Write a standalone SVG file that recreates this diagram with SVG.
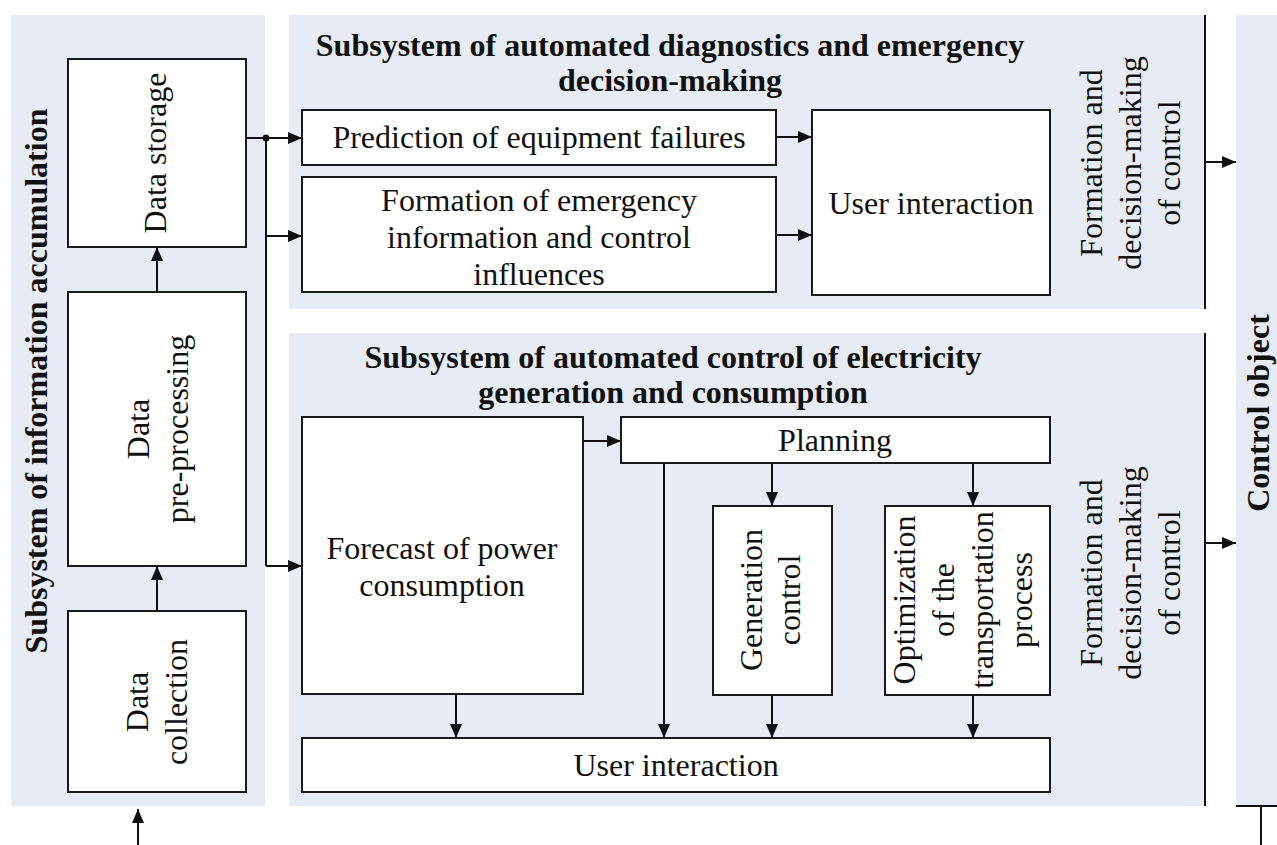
<svg xmlns="http://www.w3.org/2000/svg" width="1277" height="845" viewBox="0 0 1277 845">
<defs>
<marker id="arr" viewBox="0 0 14 12" refX="14" refY="6" markerWidth="14" markerHeight="12" markerUnits="userSpaceOnUse" orient="auto">
<path d="M0,0 L14,6 L0,12 Z" fill="#111"/>
</marker>
<style>
.panel{fill:#E7EBF3;stroke:none}
.box{fill:#fff;stroke:#1a1a1a;stroke-width:2}
.t{font-family:"Liberation Serif","Times New Roman",serif;font-size:32px;fill:#111;text-anchor:middle}
.b{font-family:"Liberation Serif","Times New Roman",serif;font-size:32px;font-weight:bold;fill:#111;text-anchor:middle}
.c{fill:none;stroke:#111;stroke-width:2}
.a{fill:none;stroke:#111;stroke-width:2;marker-end:url(#arr)}
</style>
</defs>
<rect width="1277" height="845" fill="#fff"/>

<g id="panel-accumulation">
<rect class="panel" x="11" y="15" width="254" height="791"/>
<text class="b" transform="translate(47,381) rotate(-90)">Subsystem of information accumulation</text>
</g>
<g id="panel-diagnostics">
<rect class="panel" x="289" y="15" width="916" height="294"/>
<text class="b" x="670" y="56">Subsystem of automated diagnostics and emergency</text>
<text class="b" x="670" y="91">decision-making</text>
<text class="t" transform="translate(1102,163) rotate(-90)"><tspan x="0" y="0">Formation and</tspan><tspan x="0" y="39">decision-making</tspan><tspan x="0" y="78">of control</tspan></text>
</g>
<g id="panel-control">
<rect class="panel" x="289" y="333" width="916" height="473"/>
<text class="b" x="673" y="368">Subsystem of automated control of electricity</text>
<text class="b" x="673" y="403">generation and consumption</text>
<text class="t" transform="translate(1102,573) rotate(-90)"><tspan x="0" y="0">Formation and</tspan><tspan x="0" y="39">decision-making</tspan><tspan x="0" y="78">of control</tspan></text>
</g>
<g id="control-object">
<rect class="panel" x="1236" y="15" width="41" height="791"/>
<text class="b" transform="translate(1269,413) rotate(-90)">Control object</text>
</g>

<g id="data-storage">
<rect class="box" x="68" y="59" width="178" height="188"/>
<text class="t" transform="translate(166,153) rotate(-90)">Data storage</text>
</g>
<g id="data-preprocessing">
<rect class="box" x="68" y="292" width="178" height="274"/>
<text class="t" transform="translate(149,429) rotate(-90)"><tspan x="0" y="0">Data</tspan><tspan x="0" y="39">pre-processing</tspan></text>
</g>
<g id="data-collection">
<rect class="box" x="68" y="611" width="178" height="181"/>
<text class="t" transform="translate(148,702) rotate(-90)"><tspan x="0" y="0">Data</tspan><tspan x="0" y="39">collection</tspan></text>
</g>

<g id="prediction">
<rect class="box" x="302" y="110" width="474" height="55"/>
<text class="t" x="539" y="148">Prediction of equipment failures</text>
</g>
<g id="formation">
<rect class="box" x="302" y="177" width="474" height="115"/>
<text class="t" x="539" y="211">Formation of emergency</text>
<text class="t" x="539" y="248">information and control</text>
<text class="t" x="539" y="285">influences</text>
</g>
<g id="user-interaction-top">
<rect class="box" x="812" y="110" width="238" height="185"/>
<text class="t" x="931" y="214">User interaction</text>
</g>

<g id="forecast">
<rect class="box" x="302" y="417" width="281" height="277"/>
<text class="t" x="442" y="559">Forecast of power</text>
<text class="t" x="442" y="596">consumption</text>
</g>
<g id="planning">
<rect class="box" x="621" y="417" width="429" height="46"/>
<text class="t" x="835" y="451">Planning</text>
</g>
<g id="generation-control">
<rect class="box" x="713" y="506" width="119" height="189"/>
<text class="t" transform="translate(762,600) rotate(-90)"><tspan x="0" y="0">Generation</tspan><tspan x="0" y="38">control</tspan></text>
</g>
<g id="optimization">
<rect class="box" x="885" y="506" width="165" height="189"/>
<text class="t" transform="translate(915,600) rotate(-90)"><tspan x="0" y="0">Optimization</tspan><tspan x="0" y="39">of the</tspan><tspan x="0" y="78">transportation</tspan><tspan x="0" y="117">process</tspan></text>
</g>
<g id="user-interaction-bottom">
<rect class="box" x="302" y="738" width="748" height="54"/>
<text class="t" x="676" y="776">User interaction</text>
</g>

<g id="connectors">
<line class="a" x1="157" y1="611" x2="157" y2="566"/>
<line class="a" x1="157" y1="292" x2="157" y2="247"/>
<line class="a" x1="138" y1="845" x2="138" y2="809"/>
<line class="a" x1="246" y1="138" x2="302" y2="138"/>
<circle cx="266" cy="138" r="3.5" fill="#111"/>
<line class="c" x1="266" y1="138" x2="266" y2="566"/>
<line class="a" x1="266" y1="236" x2="302" y2="236"/>
<line class="a" x1="266" y1="566" x2="302" y2="566"/>
<line class="a" x1="776" y1="137" x2="812" y2="137"/>
<line class="a" x1="776" y1="235" x2="812" y2="235"/>
<line class="a" x1="583" y1="441" x2="621" y2="441"/>
<line class="a" x1="772" y1="463" x2="772" y2="506"/>
<line class="a" x1="973" y1="463" x2="973" y2="506"/>
<line class="a" x1="664" y1="463" x2="664" y2="738"/>
<line class="a" x1="456" y1="694" x2="456" y2="738"/>
<line class="a" x1="772" y1="695" x2="772" y2="738"/>
<line class="a" x1="973" y1="695" x2="973" y2="738"/>
<line class="c" x1="1205" y1="15" x2="1205" y2="309"/>
<line class="a" x1="1205" y1="162" x2="1236" y2="162"/>
<line class="c" x1="1205" y1="333" x2="1205" y2="806"/>
<line class="a" x1="1205" y1="543" x2="1236" y2="543"/>
<line class="c" x1="1236" y1="806" x2="1277" y2="806"/>
<line class="c" x1="1261" y1="806" x2="1261" y2="845"/>
</g>
</svg>
